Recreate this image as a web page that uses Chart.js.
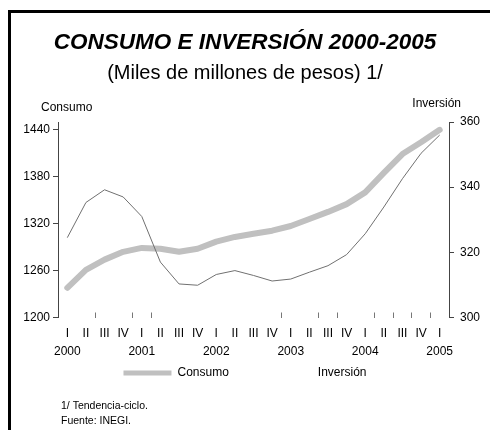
<!DOCTYPE html>
<html lang="es">
<head>
<meta charset="UTF-8">
<title>Consumo e Inversión 2000-2005</title>
<script src="https://cdn.jsdelivr.net/npm/chart.js@4.4.1/dist/chart.umd.min.js"></script>
<style>
  html, body { margin: 0; padding: 0; background: #fff; overflow: hidden; }
  #wrap { position: relative; width: 490px; height: 430px; }
  #frame { position: absolute; left: 8px; top: 10px; width: 600px; height: 600px;
           border: 3px solid #000; pointer-events: none; }
  canvas { position: absolute; left: 0; top: 0; }
</style>
</head>
<body>
<div id="wrap">
  <canvas id="chart" width="490" height="430"></canvas>
  <div id="frame"></div>
</div>
<script>
// quarterly data, 2000 I - 2005 I
const quarters = ['I','II','III','IV','I','II','III','IV','I','II','III','IV',
                  'I','II','III','IV','I','II','III','IV','I'];
const years    = ['2000','','','','2001','','','','2002','','','',
                  '2003','','','','2004','','','','2005'];
const consumo   = [1238, 1261, 1274, 1284, 1289, 1288, 1284, 1288, 1297, 1303, 1307,
                   1311, 1317, 1326, 1335, 1345, 1360, 1385, 1409, 1424, 1440];
const inversion = [324.5, 335.3, 339.2, 337.0, 331.0, 317.0, 310.3, 309.9, 313.2, 314.4, 312.9,
                   311.2, 311.8, 313.9, 315.9, 319.3, 325.7, 333.9, 342.6, 350.4, 356.0];
const leftTicks  = [1200, 1260, 1320, 1380, 1440];
const rightTicks = [300, 320, 340, 360];
const axisTitles = ['Consumo', 'Inversión'];
const notes = ['1/ Tendencia-ciclo.', 'Fuente: INEGI.'];
// small tick marks seen along the bottom of the plot (category boundaries)
const bottomMarks = [2, 4, 5, 12, 14, 15, 17, 18, 19, 20];

const FONT = "'Liberation Sans', Arial, sans-serif";
Chart.defaults.font.family = FONT;
Chart.defaults.color = '#000';

const labels = quarters.map((q, i) => [q, years[i]]);

const extraText = {
  id: 'extraText',
  afterLayout(chart) {
    // pull the legend up under the tick labels (its padding also sets the item gap)
    chart.legend.top -= 31.5;
    chart.legend.bottom -= 31.5;
  },
  afterDraw(chart) {
    const { ctx, chartArea: a } = chart;
    ctx.save();
    ctx.fillStyle = '#000';
    ctx.textBaseline = 'middle';
    ctx.font = '12px ' + FONT;
    ctx.textAlign = 'left';
    ctx.fillText(axisTitles[0], a.left - 17, a.top - 14.5);
    ctx.textAlign = 'right';
    ctx.fillText(axisTitles[1], a.right + 12, a.top - 18);
    ctx.font = '10.5px ' + FONT;
    ctx.textAlign = 'left';
    ctx.fillText(notes[0], 61, 406);
    ctx.fillText(notes[1], 61, 421);
    ctx.restore();
  }
};

new Chart(document.getElementById('chart'), {
  type: 'line',
  data: {
    labels: labels,
    datasets: [{
      label: 'Consumo',
      data: consumo,
      yAxisID: 'y',
      borderColor: '#c0c0c0',
      borderWidth: 6,
      borderJoinStyle: 'round',
      borderCapStyle: 'round',
      pointRadius: 0,
      tension: 0,
      order: 1,
      legendColor: '#c0c0c0'
    }, {
      label: 'Inversión',
      data: inversion,
      yAxisID: 'y1',
      borderColor: '#707070',
      borderWidth: 1,
      pointRadius: 0,
      tension: 0,
      order: 0,
      legendColor: 'rgba(0,0,0,0)'
    }]
  },
  options: {
    responsive: false,
    animation: false,
    layout: { padding: { left: 5, right: 5, top: 0, bottom: 9.5 } },
    scales: {
      x: {
        offset: true,
        border: { display: false },
        grid: {
          offset: true,
          drawOnChartArea: false,
          tickLength: -5,
          color: c => bottomMarks.includes(c.index) ? '#777' : 'rgba(0,0,0,0)'
        },
        ticks: {
          autoSkip: false,
          maxRotation: 0,
          padding: 12.5,
          font: { size: 12, lineHeight: 1.5 },
          color: '#000'
        },
        afterFit: s => { s.height = 46; }
      },
      y: {
        position: 'left',
        min: 1200,
        max: 1450,
        border: { display: true, color: '#444' },
        grid: { drawOnChartArea: false, tickLength: 5, color: '#444' },
        ticks: { padding: 3, font: { size: 12 }, color: '#000', callback: v => String(v) },
        afterBuildTicks: s => { s.ticks = leftTicks.map(v => ({ value: v })); },
        afterFit: s => { s.width = 53; }
      },
      y1: {
        position: 'right',
        min: 300,
        max: 360,
        border: { display: true, color: '#444' },
        grid: { drawOnChartArea: false, tickLength: 5, color: '#444' },
        ticks: { padding: 6, font: { size: 12 }, color: '#000', callback: v => String(v) },
        afterBuildTicks: s => { s.ticks = rightTicks.map(v => ({ value: v })); },
        afterFit: s => { s.width = 36; }
      }
    },
    plugins: {
      title: {
        display: true,
        text: 'CONSUMO E INVERSIÓN 2000-2005',
        color: '#000',
        font: { size: 22.5, weight: 'bold', style: 'italic', lineHeight: 1.2 },
        padding: { top: 29, bottom: 0 }
      },
      subtitle: {
        display: true,
        text: '(Miles de millones de pesos) 1/',
        color: '#000',
        font: { size: 20, lineHeight: 1.2 },
        padding: { top: 5, bottom: 37 }
      },
      legend: {
        position: 'bottom',
        labels: {
          boxWidth: 48,
          boxHeight: 5,
          padding: 35,
          useBorderRadius: true,
          borderRadius: 2.5,
          color: '#000',
          font: { size: 12 },
          generateLabels: chart => chart.data.datasets.map((ds, i) => ({
            text: ds.label,
            fillStyle: ds.legendColor,
            strokeStyle: ds.legendColor,
            lineWidth: 0,
            hidden: false,
            datasetIndex: i
          }))
        }
      },
      tooltip: { enabled: false }
    }
  },
  plugins: [extraText]
});
</script>
</body>
</html>
